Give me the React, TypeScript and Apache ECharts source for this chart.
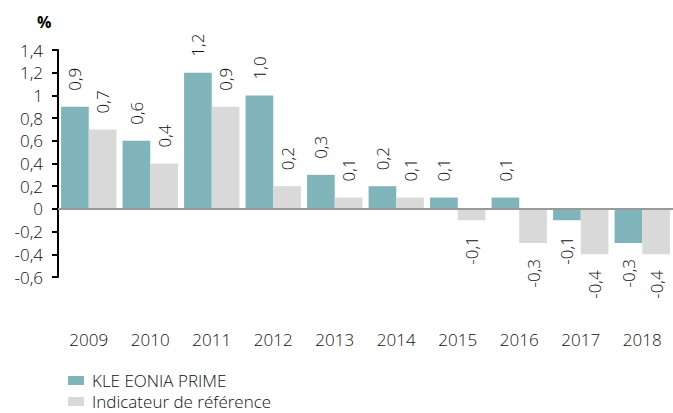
import React, { useEffect, useRef } from "react";
import * as echarts from "echarts";

const years = ["2009", "2010", "2011", "2012", "2013", "2014", "2015", "2016", "2017", "2018"];
const kleValues = [0.9, 0.6, 1.2, 1.0, 0.3, 0.2, 0.1, 0.1, -0.1, -0.3];
const refValues = [0.7, 0.4, 0.9, 0.2, 0.1, 0.1, -0.1, -0.3, -0.4, -0.4];
const seriesNames = ["KLE EONIA PRIME", "Indicateur de référence"];

const FONT = "Open Sans";
const TEXT = "#111111";
const FS = 17;
const FW = 300;

const fmt = (v: number, digits: number) => {
  const r = Math.round(v * 10) / 10;
  const s = digits > 0 ? r.toFixed(digits) : String(r);
  return s.replace(".", ",");
};

const toData = (vals: number[]) =>
  vals.map((v) =>
    v < 0
      ? { value: v, label: { position: "bottom", align: "right" } }
      : { value: v }
  );

export default function App() {
  const ref = useRef<HTMLDivElement>(null);
  useEffect(() => {
    if (!ref.current) return;
    const chart = echarts.init(ref.current, undefined, { renderer: "svg" });
    const labelCfg = {
      show: true,
      position: "top",
      rotate: 90,
      align: "left",
      verticalAlign: "middle",
      distance: 16,
      color: TEXT,
      fontSize: FS,
      fontWeight: FW,
      fontFamily: FONT,
      formatter: (p: any) => fmt(p.value, 1),
    };
    const legendBase = {
      orient: "vertical",
      left: 68,
      padding: 0,
      itemWidth: 16,
      itemHeight: 9,
      itemGap: 9,
      icon: "rect",
      textStyle: {
        fontSize: FS,
        fontWeight: FW,
        color: TEXT,
        fontFamily: FONT,
        lineHeight: 17,
        padding: [0, 0, 0, 3],
      },
    };
    chart.setOption({
      animation: false,
      textStyle: { fontFamily: FONT },
      grid: { left: 58, right: 0, top: 50, bottom: 136, containLabel: false },
      graphic: [
        {
          type: "text",
          left: 37,
          top: 14,
          style: { text: "%", fontSize: 16, fontWeight: "bold", fill: "#000", fontFamily: FONT },
        },
      ],
      legend: [
        { ...legendBase, top: 372, data: [seriesNames[0]] },
        { ...legendBase, top: 393, data: [seriesNames[1]] },
      ],
      xAxis: {
        type: "category",
        data: years,
        axisLine: { show: false },
        axisTick: { show: false },
        axisLabel: { margin: 54, fontSize: FS, fontWeight: FW, color: TEXT, fontFamily: FONT },
      },
      yAxis: {
        type: "value",
        min: -0.6,
        max: 1.4,
        interval: 0.2,
        axisLine: { show: true, lineStyle: { color: "#000", width: 2 } },
        axisTick: { show: true, length: 6, lineStyle: { color: "#000", width: 2 } },
        splitLine: { show: false },
        axisLabel: {
          margin: 15,
          fontSize: FS,
          fontWeight: FW,
          color: TEXT,
          fontFamily: FONT,
          formatter: (v: number) => fmt(v, 0),
        },
      },
      series: [
        {
          name: seriesNames[0],
          type: "bar",
          data: toData(kleValues),
          itemStyle: { color: "#80b4bb" },
          barGap: "0%",
          barCategoryGap: "10%",
          label: labelCfg,
          markLine: {
            silent: true,
            symbol: "none",
            label: { show: false },
            lineStyle: { color: "#999999", width: 2, type: "solid" },
            data: [{ yAxis: 0 }],
          },
        },
        {
          name: seriesNames[1],
          type: "bar",
          data: toData(refValues),
          itemStyle: { color: "#d9d9d9" },
          barGap: "0%",
          barCategoryGap: "10%",
          label: labelCfg,
        },
      ],
    });
    return () => chart.dispose();
  }, []);
  return (
    <div
      ref={ref}
      style={{ position: "fixed", left: 0, top: 0, width: 673, height: 413, background: "#fff" }}
    />
  );
}
